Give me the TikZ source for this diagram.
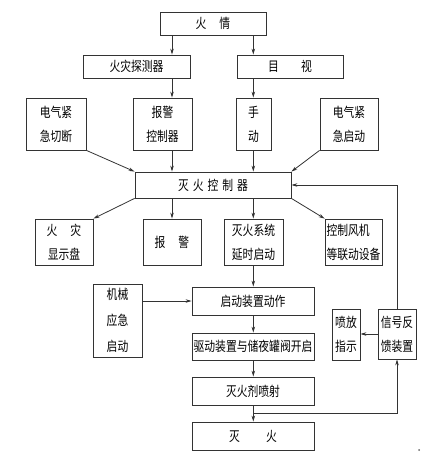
\documentclass[tikz,border=0pt]{standalone}
\usepackage{fontspec}
\newfontfamily\cjk[FakeStretch=0.8]{Noto Sans CJK SC}
\usetikzlibrary{arrows.meta,calc}
\begin{document}
\begin{tikzpicture}[x=1pt,y=-1pt,
  box/.style={draw=black!80,line width=0.8pt,inner sep=0pt,align=center,
    font={\cjk\fontsize{13.5}{24}\selectfont}},
  ln/.style={draw=black!80,line width=0.8pt},
  arr/.style={ln,-{Stealth[length=6pt,width=3.5pt]}}]
\useasboundingbox (0,0) rectangle (440,465);
% top
\node[box,minimum width=106,minimum height=23] (huoqing) at (213,23.5) {火\hspace{13pt}情};
\node[box,minimum width=107,minimum height=23] (tance) at (136.5,66.5) {火灾探测器};
\node[box,minimum width=106,minimum height=23] (mushi) at (290,66.5) {目\hspace{22pt}视};
% second row
\node[box,minimum width=60,minimum height=52] (qieduan) at (56,124) {电气紧\\急切断};
\node[box,minimum width=59,minimum height=52] (bjkz) at (162.5,124) {报警\\控制器};
\node[box,minimum width=35,minimum height=52] (shoudong) at (253.5,124) {手\\动};
\node[box,minimum width=58,minimum height=52] (qidong) at (349,124) {电气紧\\急启动};
% controller
\node[box,minimum width=156,minimum height=26] (kzq) at (213,185) {灭\hspace{4pt}火\hspace{4pt}控\hspace{4pt}制\hspace{4pt}器};
% third row
\node[box,minimum width=58,minimum height=46] (xianshi) at (64,242) {火\hspace{13pt}灾\\显示盘};
\node[box,minimum width=58,minimum height=46] (baojing) at (172,242) {报\hspace{13pt}警};
\node[box,minimum width=59,minimum height=46] (yanshi) at (253.5,242) {灭火系统\\延时启动};
\node[box,minimum width=57,minimum height=46,align=left] (fengji) at (353.5,242) {控制风机\\等联动设备};
% lower chain
\node[box,minimum width=49,minimum height=73,font={\cjk\fontsize{13.5}{26}\selectfont}] (jixie) at (117.5,320.5) {机械\\应急\\启动};
\node[box,minimum width=122,minimum height=28] (qdzz) at (253,301) {启动装置动作};
\node[box,minimum width=122,minimum height=27] (qudong) at (253,346.5) {驱动装置与储夜罐阀开启};
\node[box,minimum width=122,minimum height=28] (penshe) at (253,391) {灭火剂喷射};
\node[box,minimum width=122,minimum height=28] (miehuo) at (253,436) {灭\hspace{26pt}火};
\node[box,minimum width=28,minimum height=51] (penfang) at (346,334.5) {喷放\\指示};
\node[box,minimum width=38,minimum height=50] (xinhao) at (397,334) {信号反\\馈装置};
% helper coordinates
\coordinate (xa) at (172,0);
\coordinate (xb) at (253.3,0);
\coordinate (j) at ($(penshe.south)!0.5!(miehuo.north)$);
\coordinate (fb) at (xinhao.north |- kzq.east);
% connectors
\draw[arr] (huoqing.south -| xa) -- (tance.north -| xa);
\draw[arr] (huoqing.south -| xb) -- (mushi.north -| xb);
\draw[arr] (tance.south -| xa) -- (bjkz.north -| xa);
\draw[arr] (mushi.south -| xb) -- (shoudong.north -| xb);
\draw[arr] (qieduan.south east) -- (kzq.north west);
\draw[arr] (bjkz.south -| xa) -- (kzq.north -| xa);
\draw[arr] (shoudong.south -| xb) -- (kzq.north -| xb);
\draw[arr] (qidong.south west) -- (kzq.north east);
\draw[arr] (kzq.south west) -- (xianshi.north east);
\draw[arr] (kzq.south -| xa) -- (baojing.north -| xa);
\draw[arr] (kzq.south -| xb) -- (yanshi.north -| xb);
\draw[arr] (kzq.south east) -- (fengji.north west);
\draw[arr] (yanshi.south -| xb) -- (qdzz.north -| xb);
\draw[arr] (qdzz.west -| jixie.east) -- (qdzz.west);
\draw[arr] (qdzz.south -| xb) -- (qudong.north -| xb);
\draw[arr] (qudong.south -| xb) -- (penshe.north -| xb);
\draw[arr] (penshe.south -| xb) -- (miehuo.north -| xb);
\draw[arr] (j -| xb) -- (j -| xinhao.south) -- (xinhao.south);
\draw[arr] (xinhao.north) -- (fb) -- (kzq.east);
\draw[arr] (xinhao.west) -- (penfang.east |- xinhao.west);
\fill[black!60] (419,450) circle (1pt);
\end{tikzpicture}
\end{document}
